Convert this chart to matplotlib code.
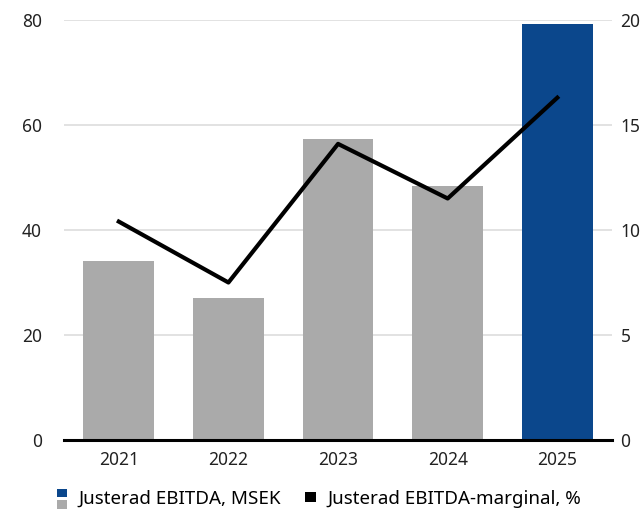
import matplotlib
matplotlib.use("Agg")
import matplotlib.pyplot as plt
from matplotlib.patches import Rectangle
from matplotlib.legend_handler import HandlerBase

plt.rcParams["font.family"] = ["Liberation Sans Narrow", "Noto Sans", "DejaVu Sans"]

# Data
years = ["2021", "2022", "2023", "2024", "2025"]
ebitda_msek = [34.0, 27.0, 57.3, 48.4, 79.2]
margin_pct = [10.4, 7.5, 14.1, 11.5, 16.3]

GRAY = "#aaaaaa"
BLUE = "#0b478c"
bar_colors = [GRAY, GRAY, GRAY, GRAY, BLUE]


class SplitSquare(HandlerBase):
    """Legend key: blue square on top, gray square below."""

    def create_artists(self, legend, orig_handle, xdescent, ydescent,
                       width, height, fontsize, trans):
        w = width
        h = height * 0.62
        x0 = -xdescent
        top = Rectangle((x0, -ydescent + height * 0.5), w, h,
                        facecolor=BLUE, transform=trans)
        bot = Rectangle((x0, -ydescent - height * 0.35), w, h,
                        facecolor=GRAY, transform=trans)
        return [top, bot]


class BlackSquare(HandlerBase):
    def create_artists(self, legend, orig_handle, xdescent, ydescent,
                       width, height, fontsize, trans):
        r = Rectangle((-xdescent, -ydescent + height * 0.15), width, width,
                      facecolor="black", transform=trans)
        return [r]


fig = plt.figure(figsize=(6.43, 5.12), dpi=100)
ax = fig.add_axes([0.0995, 0.1406, 0.8525, 0.8204])
ax2 = ax.twinx()

x = range(len(years))
ax.bar(x, ebitda_msek, width=0.645, color=bar_colors, zorder=2)
ax.set_ylim(0, 80)
ax.set_yticks([0, 20, 40, 60, 80])
ax.set_xlim(-0.5, 4.5)
ax.set_xticks(list(x))
ax.set_xticklabels(years)
ax.yaxis.grid(True, color="#dddddd", linewidth=1.2, zorder=0)
ax.set_axisbelow(True)

ax2.plot(list(x), margin_pct, color="black", linewidth=3, zorder=3)
ax2.set_ylim(0, 20)
ax2.set_yticks([0, 5, 10, 15, 20])

for a in (ax, ax2):
    for sp in a.spines.values():
        sp.set_visible(False)
    a.tick_params(length=0, labelsize=12.5, colors="#222222")
ax.tick_params(axis="y", pad=16)
ax2.tick_params(axis="y", pad=6)
ax.tick_params(axis="x", pad=8)

ax.axhline(0, color="black", linewidth=2.2, zorder=4, clip_on=False)

h1 = object()
h2 = object()
fig.legend([h1, h2], ["Justerad EBITDA, MSEK", "Justerad EBITDA-marginal, %"],
           handler_map={h1: SplitSquare(), h2: BlackSquare()},
           loc="center left", bbox_to_anchor=(57 / 643, 1 - 499 / 512),
           ncol=2, frameon=False, fontsize=13.5, handlelength=0.55,
           handletextpad=0.6, columnspacing=1.3, borderaxespad=0,
           borderpad=0)

fig.savefig("out.png", dpi=100)
